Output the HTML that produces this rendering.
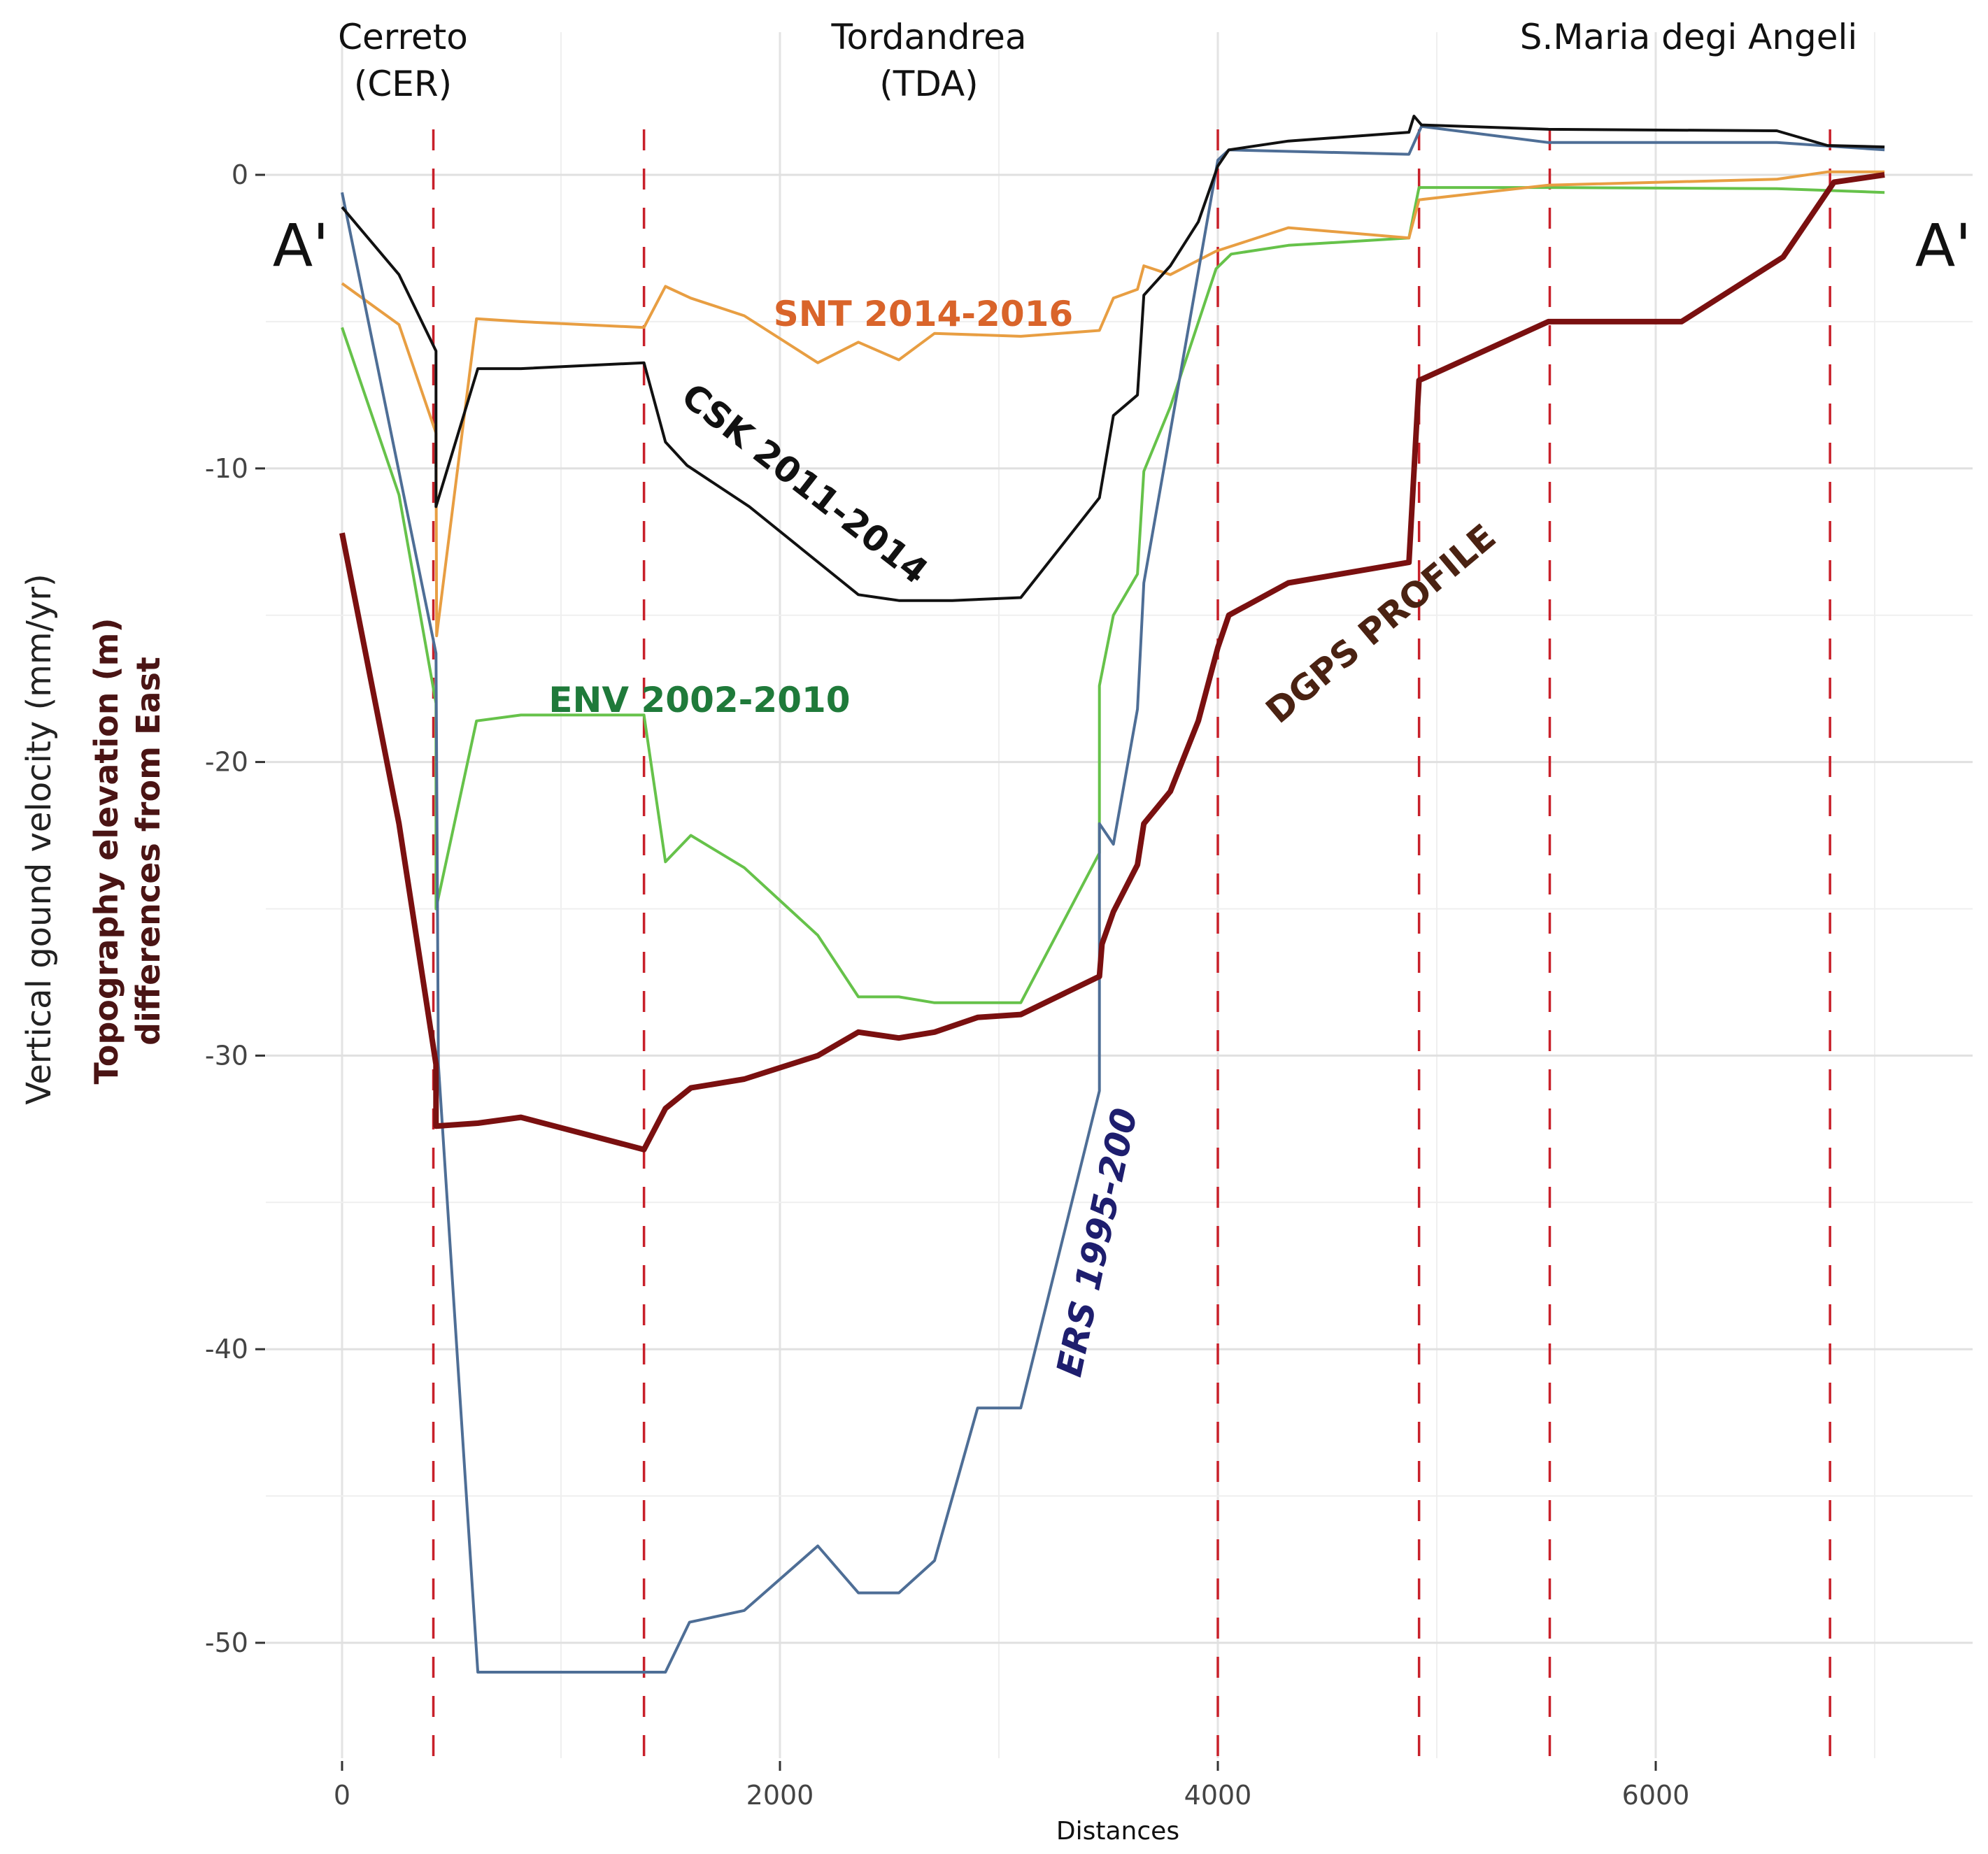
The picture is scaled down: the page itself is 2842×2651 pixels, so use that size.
<!DOCTYPE html>
<html><head><meta charset="utf-8"><style>
html,body{margin:0;padding:0;background:#fff;}
svg{display:block;font-family:"DejaVu Sans","Liberation Sans",sans-serif;}
</style></head><body>
<svg id="chart" width="2842" height="2651" viewBox="0 0 2842 2651" xmlns="http://www.w3.org/2000/svg">
<g id="grid"></g>
<g id="vlines"></g>
<g id="series"></g>
<g id="axes"></g>
<g font-size="50" fill="#111" text-anchor="middle">
<text x="576" y="70">Cerreto</text>
<text x="576" y="137">(CER)</text>
<text x="1328" y="70">Tordandrea</text>
<text x="1328" y="137">(TDA)</text>
<text x="2414" y="70">S.Maria degi Angeli</text>
<text x="430" y="380" font-size="84">A'</text>
<text x="2778" y="380" font-size="84">A'</text>
</g>
<g font-weight="bold" font-size="50" text-anchor="middle">
<text x="1320" y="466" fill="#d9642a">SNT 2014-2016</text>
<text x="1000" y="1018" fill="#1f7a3a">ENV 2002-2010</text>
<text transform="translate(1140,705) rotate(38)" fill="#111">CSK 2011-2014</text>
<text transform="translate(1585,1780) rotate(-78)" fill="#1e1e6e" font-style="italic">ERS 1995-200</text>
<text transform="translate(1985,905) rotate(-40)" fill="#4a2212">DGPS PROFILE</text>
</g>
<g text-anchor="middle">
<text transform="translate(72,1200) rotate(-90)" font-size="48" fill="#222">Vertical gound velocity (mm/yr)</text>
<text transform="translate(168,1217) rotate(-90)" font-size="46" font-weight="bold" fill="#4a1414">Topography elevation (m)</text>
<text transform="translate(228,1217) rotate(-90)" font-size="46" font-weight="bold" fill="#4a1414">differences from East</text>
<text x="1598" y="2630" font-size="36" fill="#111">Distances</text>
</g>
</svg>
<script>
const xTicks=[0,2000,4000,6000];
const yTicks=[0,-10,-20,-30,-40,-50];
const sectionX=[417,1379,4000,4919,5516,6796];
const cskX=[0,260,429,429,620,817,1379,1477,1576,1860,2358,2543,2787,3100,3459,3523,3633,3662,3783,3911,4000,4050,4322,4873,4896,4930,5510,6553,6784,7045];
const cskY=[-1.1,-3.4,-6,-11.3,-6.6,-6.6,-6.4,-9.1,-9.9,-11.3,-14.3,-14.5,-14.5,-14.4,-11,-8.2,-7.5,-4.1,-3.1,-1.6,0.3,0.85,1.15,1.45,2,1.7,1.55,1.5,1.0,0.95];
const ersX=[0,429,440,620,1477,1587,1837,2173,2358,2543,2706,2903,3100,3459,3459,3523,3633,3662,4000,4050,4873,4930,5510,6553,7045];
const ersY=[-0.6,-16.3,-30.3,-51,-51,-49.3,-48.9,-46.7,-48.3,-48.3,-47.2,-42,-42,-31.2,-22.1,-22.8,-18.2,-13.9,0.5,0.85,0.7,1.65,1.1,1.1,0.85];
const envX=[0,260,429,429,614,817,1379,1477,1593,1837,2173,2358,2543,2706,3100,3459,3459,3523,3633,3662,3783,3992,4061,4322,4873,4919,5510,6553,7045];
const envY=[-5.2,-10.9,-18,-25,-18.6,-18.4,-18.4,-23.4,-22.5,-23.6,-25.9,-28,-28,-28.2,-28.2,-23.1,-17.4,-15,-13.6,-10.1,-7.9,-3.2,-2.7,-2.4,-2.15,-0.43,-0.43,-0.47,-0.6];
const sntX=[0,260,429,432,614,817,1379,1477,1593,1837,2173,2358,2543,2706,3100,3459,3523,3633,3662,3783,3992,4322,4873,4919,5510,6553,6784,7045];
const sntY=[-3.7,-5.1,-8.8,-15.7,-4.9,-5,-5.2,-3.8,-4.2,-4.8,-6.4,-5.7,-6.3,-5.4,-5.5,-5.3,-4.2,-3.9,-3.1,-3.4,-2.6,-1.8,-2.15,-0.85,-0.35,-0.15,0.1,0.1];
const dgpsX=[0,260,429,429,620,817,1379,1477,1593,1837,2173,2358,2543,2706,2903,3100,3459,3471,3523,3633,3662,3783,3911,4000,4050,4322,4873,4919,4950,5510,6118,6582,6814,7045];
const dgpsY=[-12.2,-22.1,-30.3,-32.4,-32.3,-32.1,-33.2,-31.8,-31.1,-30.8,-30,-29.2,-29.4,-29.2,-28.7,-28.6,-27.3,-26.2,-25.1,-23.5,-22.1,-21,-18.6,-16.1,-15,-13.9,-13.2,-7,-6.9,-5,-5,-2.8,-0.25,0];

const X0=489, XS=0.3130, Y0=250, YS=41.98;
const PL=380, PR=2820, PT=46, PB=2514;
const sx=v=>X0+v*XS, sy=v=>Y0-v*YS;
const NS='http://www.w3.org/2000/svg';
function mk(tag,parent,attrs){const e=document.createElementNS(NS,tag);for(const k in attrs)e.setAttribute(k,attrs[k]);parent.appendChild(e);return e;}
const grid=document.getElementById('grid'), vl=document.getElementById('vlines'), ser=document.getElementById('series'), ax=document.getElementById('axes');
for(let v=-1000;v<=8000;v+=1000){const x=sx(v);if(x<PL||x>PR)continue;const major=xTicks.includes(v);
 const l=mk('line',grid,{x1:x,x2:x,y1:PT,y2:PB,stroke:major?'#e3e3e3':'#efefef','stroke-width':major?3:2});
 
 }
for(let v=5;v>=-55;v-=5){const y=sy(v);if(y<PT||y>PB)continue;const major=yTicks.includes(v);
 const l=mk('line',grid,{x1:PL,x2:PR,y1:y,y2:y,stroke:major?'#e0e0e0':'#efefef','stroke-width':major?3:2});
 
 }
sectionX.forEach(v=>{const l=mk('line',vl,{x1:sx(v),x2:sx(v),y1:185,y2:PB,stroke:'#c8202a','stroke-width':3.5,'stroke-dasharray':'30 26'});
 
 });
function line(xs,ys,color,w,name){const d=xs.map((x,i)=>(i?'L':'M')+sx(x).toFixed(1)+','+sy(ys[i]).toFixed(1)).join(' ');
 const p=mk('path',ser,{d:d,fill:'none',stroke:color,'stroke-width':w,'stroke-linejoin':'round'});
 
 }
line(envX,envY,'#66c24a',4,'env-line');
line(sntX,sntY,'#e89e42',4,'snt-line');
line(ersX,ersY,'#4e6e96',4,'ers-line');
line(cskX,cskY,'#111111',4,'csk-line');
line(dgpsX,dgpsY,'#7a1010',8,'dgps-line');
xTicks.forEach(v=>{mk('line',ax,{x1:sx(v),x2:sx(v),y1:PB+4,y2:PB+18,stroke:'#333','stroke-width':3});
 const t=mk('text',ax,{x:sx(v),y:2580,'font-size':38,fill:'#444','text-anchor':'middle'});t.textContent=v;
 
 });
yTicks.forEach(v=>{mk('line',ax,{x1:365,x2:379,y1:sy(v),y2:sy(v),stroke:'#333','stroke-width':3});
 const t=mk('text',ax,{x:355,y:sy(v)+13,'font-size':38,fill:'#444','text-anchor':'end'});t.textContent=v;
 
 });
</script>
</body></html>
